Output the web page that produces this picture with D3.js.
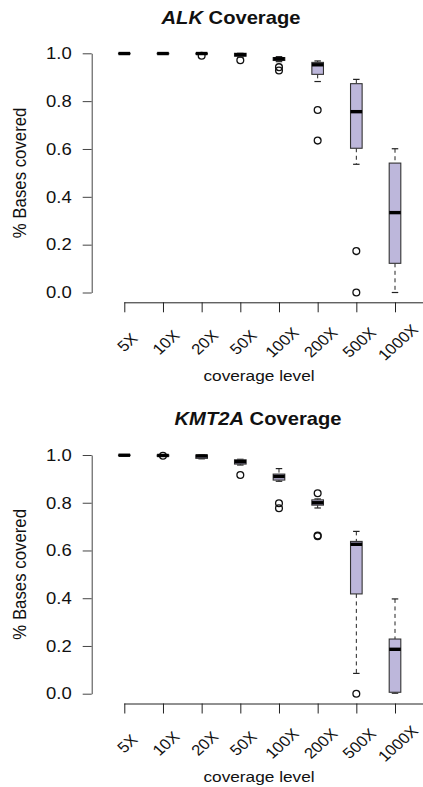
<!DOCTYPE html>
<html>
<head>
<meta charset="utf-8">
<script src="https://cdn.jsdelivr.net/npm/d3@7"></script>
<style>
  body { margin: 0; background: #fff; }
  text { font-family: "Liberation Sans", Arial, Helvetica, sans-serif; fill: #111; }
</style>
</head>
<body>
<div id="chart"></div>
<script>
(() => {
"use strict";

const WIDTH = 423, HEIGHT = 787;
const STRETCH = 1.12;   // the reference text is a bit wide

const categories = ["5X", "10X", "20X", "50X", "100X", "200X", "500X", "1000X"];
const yTicks = [0, 0.2, 0.4, 0.6, 0.8, 1.0];

// ALK
const alkLow  = [0.997, 0.997, 0.996, 0.984, 0.965, 0.882, 0.536, 0.000];
const alkQ1   = [0.998, 0.998, 0.997, 0.988, 0.970, 0.912, 0.603, 0.122];
const alkMed  = [0.999, 0.999, 0.999, 0.994, 0.977, 0.952, 0.756, 0.334];
const alkQ3   = [1.000, 1.000, 1.000, 1.000, 0.982, 0.962, 0.873, 0.541];
const alkHigh = [1.000, 1.000, 1.000, 1.000, 0.986, 0.968, 0.891, 0.601];
const alkOut  = [[], [], [0.990], [0.971], [0.942, 0.928], [0.763, 0.635], [0.173, 0.000], []];

// KMT2A
const kmtLow  = [0.997, 0.994, 0.984, 0.958, 0.890, 0.778, 0.085, 0.002];
const kmtQ1   = [0.998, 0.995, 0.986, 0.962, 0.895, 0.790, 0.418, 0.006];
const kmtMed  = [0.999, 0.998, 0.996, 0.972, 0.910, 0.800, 0.626, 0.186];
const kmtQ3   = [1.000, 1.000, 1.000, 0.980, 0.920, 0.812, 0.638, 0.229];
const kmtHigh = [1.000, 1.000, 1.000, 0.982, 0.943, 0.816, 0.680, 0.397];
const kmtOut  = [[], [0.997], [], [0.916], [0.798, 0.777], [0.840, 0.663, 0.660], [0.000], []];

const BOX_FILL = "#bdb7db";

let svg = d3.select("#chart").append("svg")
  .attr("width", WIDTH)
  .attr("height", HEIGHT)
  .style("display", "block");

let xScale = d3.scalePoint()
  .domain(categories)
  .range([124.3, 395]);

let stretched = function(sel, x, y, rot) {
  return sel.attr("transform",
    "translate(" + x + "," + y + ") scale(" + STRETCH + ",1)" + (rot ? " rotate(" + rot + ")" : ""));
};

let panel = function(opts) {
  let yScale = d3.scaleLinear()
    .domain([0, 1])
    .range([opts.y0, opts.y1]);
  let g = svg.append("g");
  let axisY = opts.y0 + 9.8;

  // title: italic gene name + bold "Coverage"
  let title = g.append("text")
    .attr("text-anchor", "middle")
    .style("font-size", "18px")
    .style("font-weight", "bold");
  stretched(title, opts.titleX, opts.titleY);
  title.append("tspan").style("font-style", "italic").text(opts.gene);
  title.append("tspan").text(" Coverage");

  // y axis
  let yAxis = g.append("g")
    .attr("transform", "translate(91.7,0)")
    .call(d3.axisLeft(yScale)
      .tickValues(yTicks)
      .tickFormat(d3.format(".1f"))
      .tickSize(9)
      .tickSizeOuter(0));
  yAxis.selectAll("path, line").attr("stroke", "#444");
  yAxis.selectAll("text")
    .style("font-size", "16.5px")
    .attr("fill", "#111")
    .attr("transform", "scale(" + STRETCH + ",1)")
    .attr("x", -20 / STRETCH);

  let yLabel = g.append("text")
    .attr("text-anchor", "middle")
    .style("font-size", "16.8px");
  yLabel.attr("transform", "translate(25.5," + (opts.y0 + opts.y1) / 2 + ") rotate(-90) scale(1," + STRETCH + ")")
    .text("% Bases covered");

  // x axis
  let xAxis = g.append("g")
    .attr("transform", "translate(0," + axisY + ")")
    .call(d3.axisBottom(xScale).tickSize(10).tickSizeOuter(0).tickFormat(""));
  xAxis.select(".domain").attr("d", "M124.3,0.5H" + WIDTH);
  xAxis.selectAll("path, line").attr("stroke", "#222");

  g.selectAll(".xlab")
    .data(categories)
    .join("text")
    .attr("class", "xlab")
    .attr("text-anchor", "middle")
    .attr("dominant-baseline", "central")
    .style("font-size", "15px")
    .each(function(d) {
      stretched(d3.select(this), xScale(d) + 3, axisY + 40, -45);
    })
    .text(d => d);

  let xLabel = g.append("text")
    .attr("text-anchor", "middle")
    .style("font-size", "15.4px")
    .text("coverage level");
  stretched(xLabel, 259, axisY + 78.6);

  // boxes
  let bw = 11.6, cap = 6.5;
  let rows = categories.map((c, i) => ({
    cat: c, low: opts.low[i], q1: opts.q1[i], med: opts.med[i],
    q3: opts.q3[i], high: opts.high[i], out: opts.out[i]
  }));

  let box = g.selectAll(".box")
    .data(rows)
    .join("g")
    .attr("class", "box")
    .attr("transform", d => "translate(" + xScale(d.cat) + ",0)");

  // outliers first so boxes sit over them
  box.selectAll("circle")
    .data(d => d.out)
    .join("circle")
    .attr("cx", 0)
    .attr("cy", d => yScale(d))
    .attr("r", 3.4)
    .attr("fill", "none")
    .attr("stroke", "#111")
    .attr("stroke-width", 1.3);

  box.append("line")
    .attr("y1", d => yScale(d.high))
    .attr("y2", d => yScale(d.q3))
    .attr("stroke", "#222")
    .attr("stroke-dasharray", "4,3.5");
  box.append("line")
    .attr("y1", d => yScale(d.q1))
    .attr("y2", d => yScale(d.low))
    .attr("stroke", "#222")
    .attr("stroke-dasharray", "4,3.5");
  box.append("line")
    .attr("x1", -cap / 2).attr("x2", cap / 2)
    .attr("y1", d => yScale(d.high)).attr("y2", d => yScale(d.high))
    .attr("stroke", "#222").attr("stroke-width", 1.2);
  box.append("line")
    .attr("x1", -cap / 2).attr("x2", cap / 2)
    .attr("y1", d => yScale(d.low)).attr("y2", d => yScale(d.low))
    .attr("stroke", "#222").attr("stroke-width", 1.2);

  box.append("rect")
    .attr("x", -bw / 2)
    .attr("width", bw)
    .attr("y", d => yScale(d.q3))
    .attr("height", d => Math.max(0.5, yScale(d.q1) - yScale(d.q3)))
    .attr("fill", BOX_FILL)
    .attr("stroke", "#333")
    .attr("stroke-width", 1.1);

  box.append("line")
    .attr("x1", -bw / 2).attr("x2", bw / 2)
    .attr("y1", d => yScale(d.med)).attr("y2", d => yScale(d.med))
    .attr("stroke", "#000")
    .attr("stroke-width", 3.4);
};

panel({
  gene: "ALK", titleX: 231, titleY: 24,
  y0: 292.5, y1: 53.3,
  low: alkLow, q1: alkQ1, med: alkMed, q3: alkQ3, high: alkHigh, out: alkOut
});

panel({
  gene: "KMT2A", titleX: 258, titleY: 425,
  y0: 693.7, y1: 455,
  low: kmtLow, q1: kmtQ1, med: kmtMed, q3: kmtQ3, high: kmtHigh, out: kmtOut
});
})();
</script>
</body>
</html>
